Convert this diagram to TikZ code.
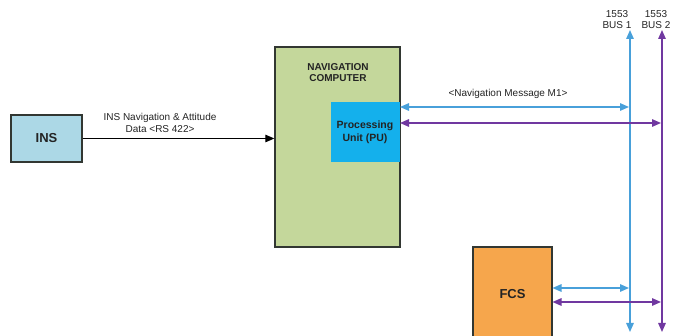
\documentclass[tikz,border=0pt]{standalone}
\usepackage{fontspec}
\setmainfont{Liberation Sans}
\usetikzlibrary{arrows.meta}
\definecolor{insfill}{RGB}{172,216,230}
\definecolor{navfill}{RGB}{196,215,155}
\definecolor{pufill}{RGB}{20,176,236}
\definecolor{fcsfill}{RGB}{246,166,76}
\definecolor{busone}{RGB}{72,160,218}
\definecolor{bustwo}{RGB}{112,56,160}
\definecolor{edge}{RGB}{50,55,50}
\definecolor{txt}{RGB}{35,35,35}
\tikzset{
  box/.style={draw=edge, line width=1.3pt, inner sep=0pt, font=\bfseries\fontsize{13}{14}\selectfont, text=txt},
  lbl/.style={font=\fontsize{10}{11.5}\selectfont, text=txt, inner sep=0pt, align=center},
  tip/.style={-{Triangle[length=9pt,width=7.5pt]}},
  dtip/.style={{Triangle[length=9pt,width=7.5pt]}-{Triangle[length=9pt,width=7.5pt]}},
  bone/.style={draw=busone, line width=1.4pt},
  btwo/.style={draw=bustwo, line width=1.4pt},
}
\begin{document}
\begin{tikzpicture}[x=1pt,y=-1pt]
\useasboundingbox (0,0) rectangle (673,336);
% boxes
\node[box, fill=insfill, minimum width=71pt, minimum height=47pt] (ins) at (46.5,138.5) {INS};
\node[box, fill=navfill, minimum width=125pt, minimum height=200pt] (nav) at (337.5,147) {};
\node[font=\bfseries\fontsize{10}{11.5}\selectfont, text=txt, align=center, inner sep=0pt] (navt) at (338,72.5) {NAVIGATION\\COMPUTER};
\node[fill=pufill, minimum width=69pt, minimum height=60pt, inner sep=0pt, font=\bfseries\fontsize{10.5}{13}\selectfont, text=txt, align=center] (pu) at (365,132) {Processing\\Unit (PU)};
\node[box, fill=fcsfill, minimum width=79pt, minimum height=95pt] (fcs) at (512.5,294.5) {FCS};
% buses
\coordinate (b1top) at (630,30);
\coordinate (b1bot) at (630,332);
\coordinate (b2top) at (662,30);
\coordinate (b2bot) at (662,332);
\draw[bone, dtip] (b1top) -- (b1bot);
\draw[btwo, dtip] (b2top) -- (b2bot);
\node[lbl] (bus1) at (617,19.5) {1553\\BUS 1};
\node[lbl] (bus2) at (656,19.5) {1553\\BUS 2};
% INS to nav
\draw[line width=1pt, draw=black, tip] (ins.east) -- (ins.east -| nav.west);
\node[lbl] (insl) at (160,123) {INS Navigation \& Attitude\\Data <RS 422>};
% PU to buses
\coordinate (pua) at (400,107);
\coordinate (bua) at (629,107);
\coordinate (pub) at (400,123);
\coordinate (bub) at (661,123);
\draw[bone, dtip] (pua) -- (bua);
\draw[btwo, dtip] (pub) -- (bub);
\node[lbl] (m1) at (508,93.5) {<Navigation Message M1>};
% FCS to buses
\coordinate (fca) at (552.5,288);
\coordinate (fba) at (629,288);
\coordinate (fcb) at (552.5,302);
\coordinate (fbb) at (661,302);
\draw[bone, dtip] (fca) -- (fba);
\draw[btwo, dtip] (fcb) -- (fbb);
\end{tikzpicture}
\end{document}
